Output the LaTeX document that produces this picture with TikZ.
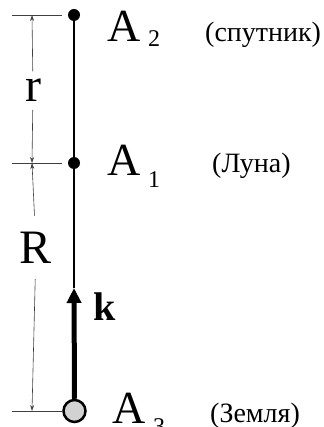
\documentclass[tikz,border=0pt]{standalone}
\usepackage{fontspec}
\setmainfont{Liberation Serif}
\usetikzlibrary{arrows.meta}
\newcommand{\fs}[1]{\fontsize{#1}{#1}\selectfont}
\begin{document}
\begin{tikzpicture}[x=1pt, y=-1pt,
    dot/.style={circle, fill=black, inner sep=0pt, minimum size=12pt},
    earth/.style={circle, draw=black, line width=2.5pt, fill=gray!35,
                  inner sep=0pt, minimum size=22pt},
    lbl/.style={inner sep=0pt, anchor=base west},
    dimline/.style={black!75, line width=0.6pt},
    dimarrow/.style={dimline, -{Stealth[length=6pt, width=4pt]}}]
    \useasboundingbox (0,0) rectangle (323,427);

    % Puntos A2, A1 y A3
    \node[dot] (sat) at (74,15) {};
    \node[dot] (moon) at (74,163) {};
    \node[earth] (earth) at (74.5,411) {};
    \coordinate (tip) at (74,288);

    % Recta y vector k
    \draw[line width=1.6pt] (sat) -- (moon);
    \draw[line width=1.6pt] (moon) -- (tip);
    \draw[line width=5pt, -{Triangle[length=15pt, width=14pt]}]
         (earth.north) -- (tip);
    \node[lbl] (kvec) at (93,320) {\fs{40}\bfseries k};

    % Rayas de cota
    \coordinate (topL) at (12,15);   \coordinate (topR) at (62,15);
    \coordinate (midL) at (12,163);  \coordinate (midR) at (62,163);
    \coordinate (botL) at (12,411);  \coordinate (botR) at (62,411);
    \draw[dimline] (topL) -- (topR);
    \draw[dimline] (midL) -- (midR);
    \draw[dimline] (botL) -- (botR);

    % Cotas r y R
    \coordinate (topD) at (32,15);
    \coordinate (midD) at (32,163);
    \coordinate (botD) at (32,411);
    \node[inner sep=0pt, outer sep=8pt, anchor=base] (rlab) at (33,102) {\fs{48}r};
    \node[inner sep=0pt, outer sep=16pt, anchor=base] (Rlab) at (36,263) {\fs{48}R};
    \draw[dimarrow] (rlab) -- (topD);
    \draw[dimarrow] (rlab) -- (midD);
    \draw[dimarrow] (Rlab) -- (midD);
    \draw[dimarrow] (Rlab) -- (botD);

    % Nombres de los puntos
    \node[lbl] (nameA2) at (107,42)
         {\fs{46}A\,\raisebox{-5pt}{\fs{24}2}};
    \node[lbl] (nameA1) at (107,176)
         {\fs{46}A\,\raisebox{-12pt}{\fs{24}1}};
    \node[lbl] (nameA3) at (112,423)
         {\fs{46}A\,\raisebox{-11pt}{\fs{24}3}};
    \node[lbl] (capSat) at (205,42) {\fs{28}(спутник)};
    \node[lbl] (capMoon) at (212,173) {\fs{28}(Луна)};
    \node[lbl] (capEarth) at (210,422) {\fs{28}(Земля)};
\end{tikzpicture}
\end{document}
